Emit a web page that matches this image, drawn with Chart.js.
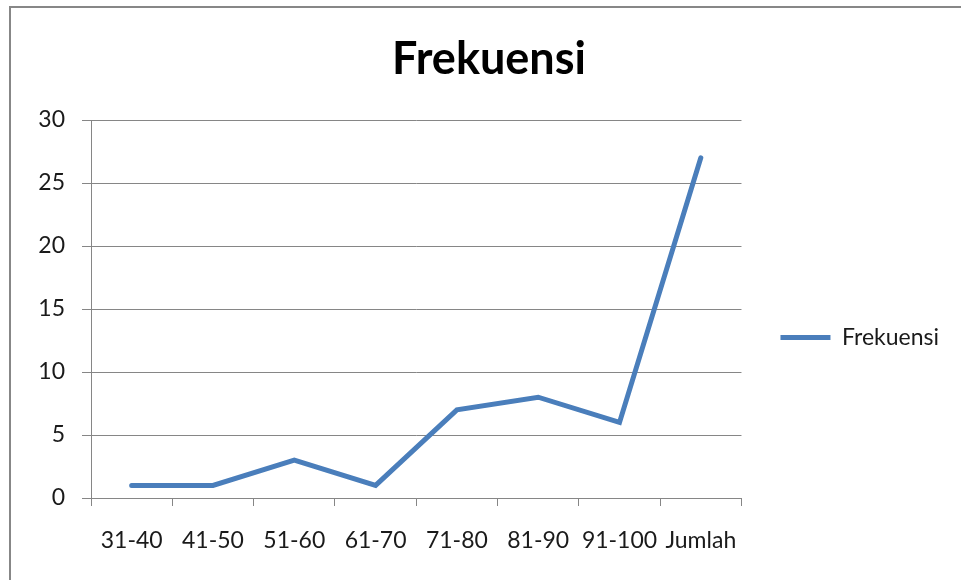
<!DOCTYPE html>
<html>
<head>
<meta charset="utf-8">
<script src="https://cdn.jsdelivr.net/npm/chart.js@4.4.0/dist/chart.umd.min.js"></script>
<style>
  html, body { margin: 0; padding: 0; background: #fff; overflow: hidden; }
  #frame {
    position: absolute; left: 9px; top: 6px;
    width: 956px; height: 600px;
    border-left: 2px solid #878787; border-top: 2px solid #878787;
  }
  #wrap { position: absolute; left: 0; top: 0; width: 956px; height: 547px; }
</style>
</head>
<body>
<div id="frame"><div id="wrap"><canvas id="graph-div"></canvas></div></div>
<script>
// chart data
const categories = ['31-40', '41-50', '51-60', '61-70', '71-80', '81-90', '91-100', 'Jumlah'];
const frekuensi = [1, 1, 3, 1, 7, 8, 6, 27];
const yTicks = [0, 5, 10, 15, 20, 25, 30];
const seriesName = 'Frekuensi';

const lineColor = '#4a7ebb';
const gridColor = '#868686';
const textColor = '#1a1a1a';
const fontFamily = 'Lato, "Open Sans", sans-serif';

Chart.defaults.font.family = fontFamily;
Chart.defaults.color = textColor;

// center the title over the whole canvas, not only over the padded area
const titleCenter = {
  id: 'titleCenter',
  afterLayout(chart) {
    if (chart.titleBlock) {
      chart.titleBlock.left = 0;
      chart.titleBlock.right = chart.width;
    }
  }
};

const ctx = document.getElementById('graph-div').getContext('2d');
const myChart = new Chart(ctx, {
  type: 'line',
  data: {
    labels: categories,
    datasets: [{
      label: seriesName,
      data: frekuensi,
      borderColor: lineColor,
      backgroundColor: lineColor,
      borderWidth: 5,
      borderCapStyle: 'round',
      tension: 0,
      pointRadius: 0,
      fill: false
    }]
  },
  plugins: [titleCenter],
  options: {
    responsive: true,
    maintainAspectRatio: false,
    animation: false,
    layout: { padding: { right: 18 } },
    plugins: {
      title: {
        display: true,
        text: 'Frekuensi',
        font: { size: 45, weight: 'bold' },
        color: '#000',
        padding: { top: 24, bottom: 34 }
      },
      legend: {
        position: 'right',
        maxWidth: 226,
        // empty title only pushes the legend entry down a bit
        title: { display: true, text: ' ', font: { size: 10 }, padding: { top: 50, bottom: 50 } },
        labels: {
          boxWidth: 50,
          boxHeight: 5,
          padding: 39,
          font: { size: 23 },
          generateLabels: (chart) => chart.data.datasets.map((ds, i) => ({
            text: ds.label,
            fillStyle: ds.borderColor,
            strokeStyle: ds.borderColor,
            lineWidth: 0,
            fontColor: textColor,
            datasetIndex: i
          }))
        }
      },
      tooltip: { enabled: false }
    },
    scales: {
      x: {
        offset: true,
        grid: {
          offset: true,
          drawOnChartArea: false,
          drawTicks: true,
          tickLength: 8,
          color: gridColor
        },
        border: { display: true, color: gridColor, width: 1 },
        ticks: { font: { size: 23 }, padding: 21, maxRotation: 0, autoSkip: false },
        afterFit: (scale) => { scale.height = 57; }
      },
      y: {
        min: 0,
        max: 30,
        afterBuildTicks: (scale) => { scale.ticks = yTicks.map(v => ({ value: v })); },
        grid: { color: gridColor, tickLength: 9 },
        border: { display: true, color: gridColor, width: 1 },
        ticks: { font: { size: 23 }, padding: 17 },
        afterFit: (scale) => { scale.width = 80; }
      }
    }
  }
});
</script>
</body>
</html>
